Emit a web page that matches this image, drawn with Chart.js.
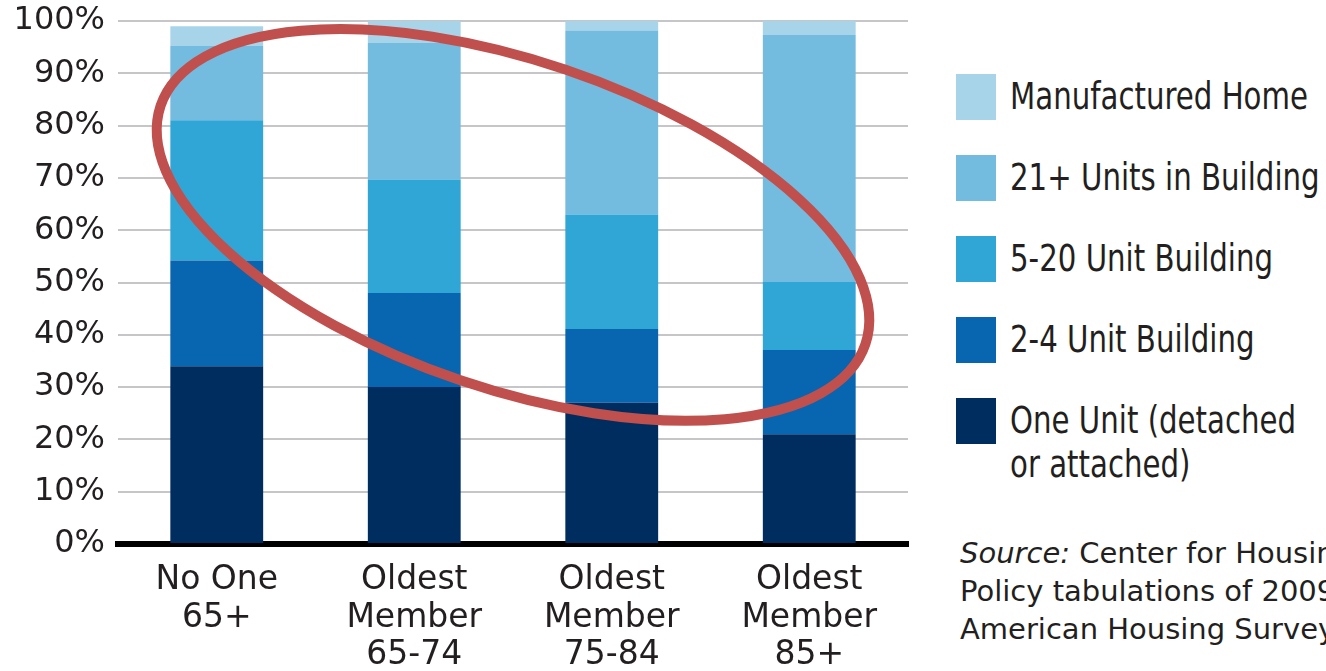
<!DOCTYPE html>
<html lang="en">
<head>
    <meta charset="UTF-8">
    <title>Housing type by age of oldest member</title>
    <script src="https://cdn.jsdelivr.net/npm/chart.js"></script>
    <style>
        body {
            margin: 0;
            padding: 0;
            background-color: #fff;
            width: 1326px;
            height: 671px;
            overflow: hidden;
            position: relative;
        }

        .chart-box {
            position: absolute;
            left: 0;
            top: 0;
            width: 930px;
            height: 671px;
        }

        .legend {
            position: absolute;
            left: 956px;
            top: 74px;
            margin: 0;
            padding: 0;
            list-style: none;
            font-family: 'DejaVu Sans', sans-serif;
            font-stretch: condensed;
            font-size: 37px;
            color: #231f20;
        }

        .legend li {
            position: relative;
            height: 81px;
            padding-left: 54px;
            line-height: 46px;
            white-space: nowrap;
        }

        .legend li span.swatch {
            position: absolute;
            left: 0;
            top: 0;
            width: 40px;
            height: 46px;
        }

        .legend li .txt {
            display: inline-block;
            transform-origin: 0 0;
        }

        .legend li .two-line {
            line-height: 44px;
            margin-top: 1px;
        }

        .source {
            position: absolute;
            left: 960px;
            top: 534px;
            font-family: 'DejaVu Sans', sans-serif;
            font-size: 29px;
            line-height: 38px;
            color: #231f20;
            white-space: nowrap;
        }
    </style>
</head>
<body>
    <div class="chart-box">
        <canvas id="housingChart" width="930" height="671"></canvas>
    </div>
    <ul class="legend" id="legend"></ul>
    <div class="source"><i>Source:</i> Center for Housing<br>Policy tabulations of 2009<br>American Housing Survey</div>
    <script>
        // categories along the x axis
        const categories = [
            ['No One', '65+'],
            ['Oldest', 'Member', '65-74'],
            ['Oldest', 'Member', '75-84'],
            ['Oldest', 'Member', '85+']
        ];

        // shares in percent, stacked bottom to top
        const oneUnit = [34, 30, 27, 21];
        const twoToFour = [20.2, 18, 14.1, 16.1];
        const fiveToTwenty = [26.8, 21.7, 21.9, 13];
        const twentyOnePlus = [14.2, 26.1, 35.2, 47.2];
        const manufactured = [3.8, 4.2, 1.8, 2.9];

        const yTicks = [0, 10, 20, 30, 40, 50, 60, 70, 80, 90, 100];

        const seriesNames = [
            'One Unit (detached or attached)',
            '2-4 Unit Building',
            '5-20 Unit Building',
            '21+ Units in Building',
            'Manufactured Home'
        ];
        const seriesColors = ['#002d5f', '#0865b0', '#30a6d6', '#73bce0', '#a8d4ea'];
        const seriesValues = [oneUnit, twoToFour, fiveToTwenty, twentyOnePlus, manufactured];

        const textColor = '#231f20';

        // red hand-drawn ring around the middle of the chart
        const ringPlugin = {
            id: 'ring',
            afterDatasetsDraw(chart) {
                const x = chart.scales.x;
                const y = chart.scales.y;
                const ctx = chart.ctx;
                const cx = (x.getPixelForValue(1) + x.getPixelForValue(2)) / 2;
                const cy = y.getPixelForValue(61);
                ctx.save();
                ctx.beginPath();
                ctx.ellipse(cx, cy, 372, 164, 18.7 * Math.PI / 180, 0, Math.PI * 2);
                ctx.strokeStyle = '#c0504d';
                ctx.lineWidth = 10;
                ctx.stroke();
                ctx.restore();
            }
        };

        const ctx = document.getElementById('housingChart').getContext('2d');
        const chart = new Chart(ctx, {
            type: 'bar',
            data: {
                labels: categories,
                datasets: seriesNames.map((name, i) => ({
                    label: name,
                    data: seriesValues[i],
                    backgroundColor: seriesColors[i],
                    borderWidth: 0,
                    barPercentage: 0.47,
                    categoryPercentage: 1
                }))
            },
            options: {
                responsive: false,
                animation: false,
                layout: {
                    padding: { top: 21, right: 22, left: 0, bottom: 0 }
                },
                plugins: {
                    legend: { display: false },
                    tooltip: { enabled: false }
                },
                scales: {
                    x: {
                        stacked: true,
                        grid: { display: false, drawTicks: false },
                        border: { color: '#000', width: 6 },
                        ticks: {
                            color: textColor,
                            padding: 17,
                            maxRotation: 0,
                            font: { family: 'DejaVu Sans', size: 33, lineHeight: 1.15 }
                        },
                        afterFit(scale) {
                            scale.height = 127;
                        }
                    },
                    y: {
                        stacked: true,
                        min: 0,
                        max: 100,
                        afterBuildTicks(scale) {
                            scale.ticks = yTicks.map(v => ({ value: v }));
                        },
                        grid: { color: '#c6c6c8', lineWidth: 2, drawTicks: false },
                        border: { display: false },
                        ticks: {
                            color: textColor,
                            padding: 13,
                            font: { family: 'DejaVu Sans', size: 32 },
                            callback: v => v + '%'
                        },
                        afterFit(scale) {
                            scale.width = 118;
                            // let the top label hang above the plot like the original
                            scale.paddingTop = 0;
                            scale.paddingBottom = 0;
                        }
                    }
                }
            },
            plugins: [ringPlugin]
        });

        // legend, top entry is the top of the stack
        const legendEl = document.getElementById('legend');
        const texts = [];
        chart.data.datasets.slice().reverse().forEach(ds => {
            const li = document.createElement('li');
            const sw = document.createElement('span');
            sw.className = 'swatch';
            sw.style.backgroundColor = ds.backgroundColor;
            li.appendChild(sw);
            const t = document.createElement('span');
            t.className = 'txt';
            if (ds.label.startsWith('One Unit')) {
                t.classList.add('two-line');
                t.innerHTML = 'One Unit (detached<br>or attached)';
            } else {
                t.textContent = ds.label;
            }
            li.appendChild(t);
            legendEl.appendChild(li);
            texts.push(t);
        });

        // squeeze the legend text to the narrow look of the original
        const w = texts[0].getBoundingClientRect().width;
        const k = 298 / w;
        texts.forEach(t => { t.style.transform = 'scaleX(' + k + ')'; });
    </script>
</body>
</html>
